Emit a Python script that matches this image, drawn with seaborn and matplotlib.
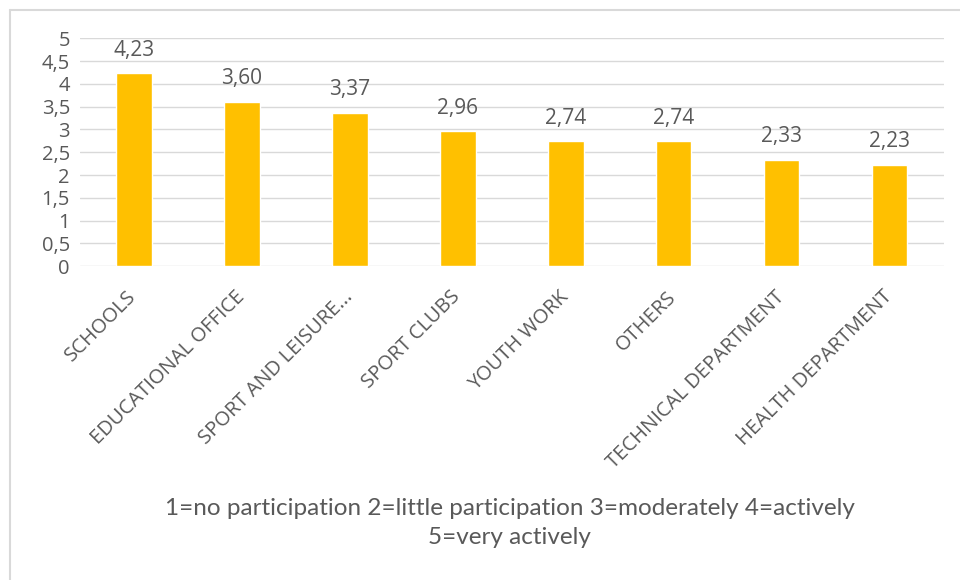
import matplotlib
matplotlib.use("Agg")
import matplotlib.pyplot as plt
import seaborn as sns
import pandas as pd

# Data
categories = ["SCHOOLS", "EDUCATIONAL OFFICE", "SPORT AND LEISURE...", "SPORT CLUBS",
              "YOUTH WORK", "OTHERS", "TECHNICAL DEPARTMENT", "HEALTH DEPARTMENT"]
scores = [4.23, 3.60, 3.37, 2.96, 2.74, 2.74, 2.33, 2.23]
y_ticks = [0, 0.5, 1, 1.5, 2, 2.5, 3, 3.5, 4, 4.5, 5]
caption = "1=no participation 2=little participation 3=moderately 4=actively\n5=very actively"

df = pd.DataFrame({"category": categories, "score": scores})

sns.set_style("white")
plt.rcParams["font.family"] = ["Open Sans", "DejaVu Sans"]
grey = "#595959"

fig = plt.figure(figsize=(9.6, 5.8), dpi=100)
ax = fig.add_axes([0.083, 0.541, 0.900, 0.393])

sns.barplot(data=df, x="category", y="score", color="#FFC000", width=0.33,
            saturation=1, ax=ax, zorder=3)

ax.set_ylim(0, 5)
ax.set_xlim(-0.5, len(categories) - 0.5)
ax.set_yticks(y_ticks)
ax.set_yticklabels([f"{t:g}".replace(".", ",") for t in y_ticks], fontsize=14.5, color=grey)
ax.yaxis.grid(True, color="#D9D9D9", linewidth=1, zorder=0)
ax.set_axisbelow(True)
for s in ax.spines.values():
    s.set_visible(False)
ax.tick_params(axis="both", length=0, pad=7)
ax.set_xlabel("")
ax.set_ylabel("")

ax.set_xticks(range(len(categories)))
ax.set_xticklabels(categories, rotation=45, ha="right", va="center",
                   rotation_mode="anchor", fontsize=14.5, color=grey)
ax.tick_params(axis="x", pad=20)

for i, v in enumerate(scores):
    ax.text(i, v + 0.28, f"{v:.2f}".replace(".", ","), ha="center", va="bottom",
            fontsize=15, color=grey)

fig.text(0.531, 0.098, caption, ha="center", va="center", fontsize=17.5, color=grey,
         family=["Lato", "DejaVu Sans"], linespacing=1.45)

# outer frame (top and left edges only)
fig.add_artist(plt.Line2D([0.0104, 1.0], [0.983, 0.983], transform=fig.transFigure,
                          color="#D9D9D9", linewidth=1.5))
fig.add_artist(plt.Line2D([0.0104, 0.0104], [0.0, 0.983], transform=fig.transFigure,
                          color="#D9D9D9", linewidth=1.5))

fig.savefig("out.png", dpi=100, facecolor="white")
